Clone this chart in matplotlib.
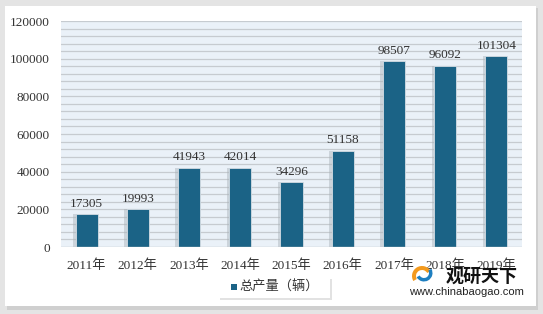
import matplotlib
matplotlib.use("Agg")
import matplotlib.pyplot as plt
from matplotlib.patches import Rectangle, Wedge
import numpy as np

categories = ["2011年", "2012年", "2013年", "2014年", "2015年", "2016年", "2017年", "2018年", "2019年"]
values = [17305, 19993, 41943, 42014, 34296, 51158, 98507, 96092, 101304]
yticks = [0, 20000, 40000, 60000, 80000, 100000, 120000]
legend_label = "总产量（辆）"

W, H = 543, 314
fig = plt.figure(figsize=(W / 100, H / 100), dpi=100)
fig.patch.set_facecolor("#e4e4e4")

# white card with soft shadow (background axes)
bg = fig.add_axes([0, 0, 1, 1], zorder=0)
bg.set_xlim(0, W)
bg.set_ylim(H, 0)
bg.axis("off")
bg.add_patch(Rectangle((7, 8), 531, 302, facecolor="#cfcfcf", edgecolor="none"))
bg.add_patch(Rectangle((5, 6), 531, 300, facecolor="white", edgecolor="none"))

fonts = ["Liberation Serif", "Noto Sans CJK SC"]
bar_color = "#1b6386"

ax = fig.add_axes([61 / W, 1 - 247 / H, 461 / W, 226 / H], zorder=2)
ax.set_facecolor("#eaf1f8")
x = np.arange(len(categories))
ax.set_xlim(-0.5, len(categories) - 0.5)
ax.set_ylim(0, 120000)

for v in np.arange(4000, 120001, 4000):
    ax.axhline(v, color="#c6cbd0", lw=0.9, zorder=1)

# shadow
ax.bar(x - 0.035, values, width=0.46, color="#a9b1b8", alpha=0.45, zorder=2)
ax.bar(x, values, width=0.43, color=bar_color, edgecolor="#d5dde4", linewidth=0.6, zorder=3,
       label=legend_label)

for xi, v in zip(x, values):
    ax.text(xi, v + 2500, f"{v}", ha="center", va="bottom", fontsize=9.5,
            family=fonts, color="#333333", zorder=4)

ax.set_yticks(yticks)
ax.set_yticklabels([str(t) for t in yticks], family=fonts, fontsize=9.5, color="#333333")
ax.set_xticks(x)
ax.set_xticklabels(categories, family=fonts, fontsize=9.5, color="#333333")
ax.tick_params(length=0, pad=8)
ax.tick_params(axis="x", pad=9)
for s in ax.spines.values():
    s.set_visible(False)
ax.axhline(0, color="#bfc4c8", lw=1, zorder=4)

# overlay axes for legend and watermark
ov = fig.add_axes([0, 0, 1, 1], zorder=3)
ov.set_xlim(0, W)
ov.set_ylim(H, 0)
ov.axis("off")
ov.patch.set_alpha(0)
ov.add_patch(Rectangle((220, 279), 112, 21, facecolor="#e2e2e2", edgecolor="none"))
ov.add_patch(Rectangle((218, 277), 112, 21, facecolor="white", edgecolor="none"))
ov.add_patch(Rectangle((231, 284), 6, 6, facecolor=bar_color, edgecolor="none"))
ov.text(239, 287.5, legend_label, family=["Noto Sans CJK SC"], fontsize=9.5,
        color="#333333", va="center", ha="left")

# watermark logo (swirl)
ov.add_patch(Wedge((422, 276), 10, 150, 330, width=4, facecolor="#f39a1e", edgecolor="none"))
ov.add_patch(Wedge((424, 273), 8.5, -30, 150, width=3.5, facecolor="#1e7fc0", edgecolor="none"))
ov.text(446, 276, "观研天下", family=["Noto Sans CJK SC"], fontsize=13,
        fontweight="bold", color="#111111", va="center", ha="left")
ov.text(466, 292, "www.chinabaogao.com", family=["Liberation Sans"], fontsize=8,
        color="#222222", va="center", ha="center")

fig.savefig("out.png", dpi=100, facecolor=fig.get_facecolor())
